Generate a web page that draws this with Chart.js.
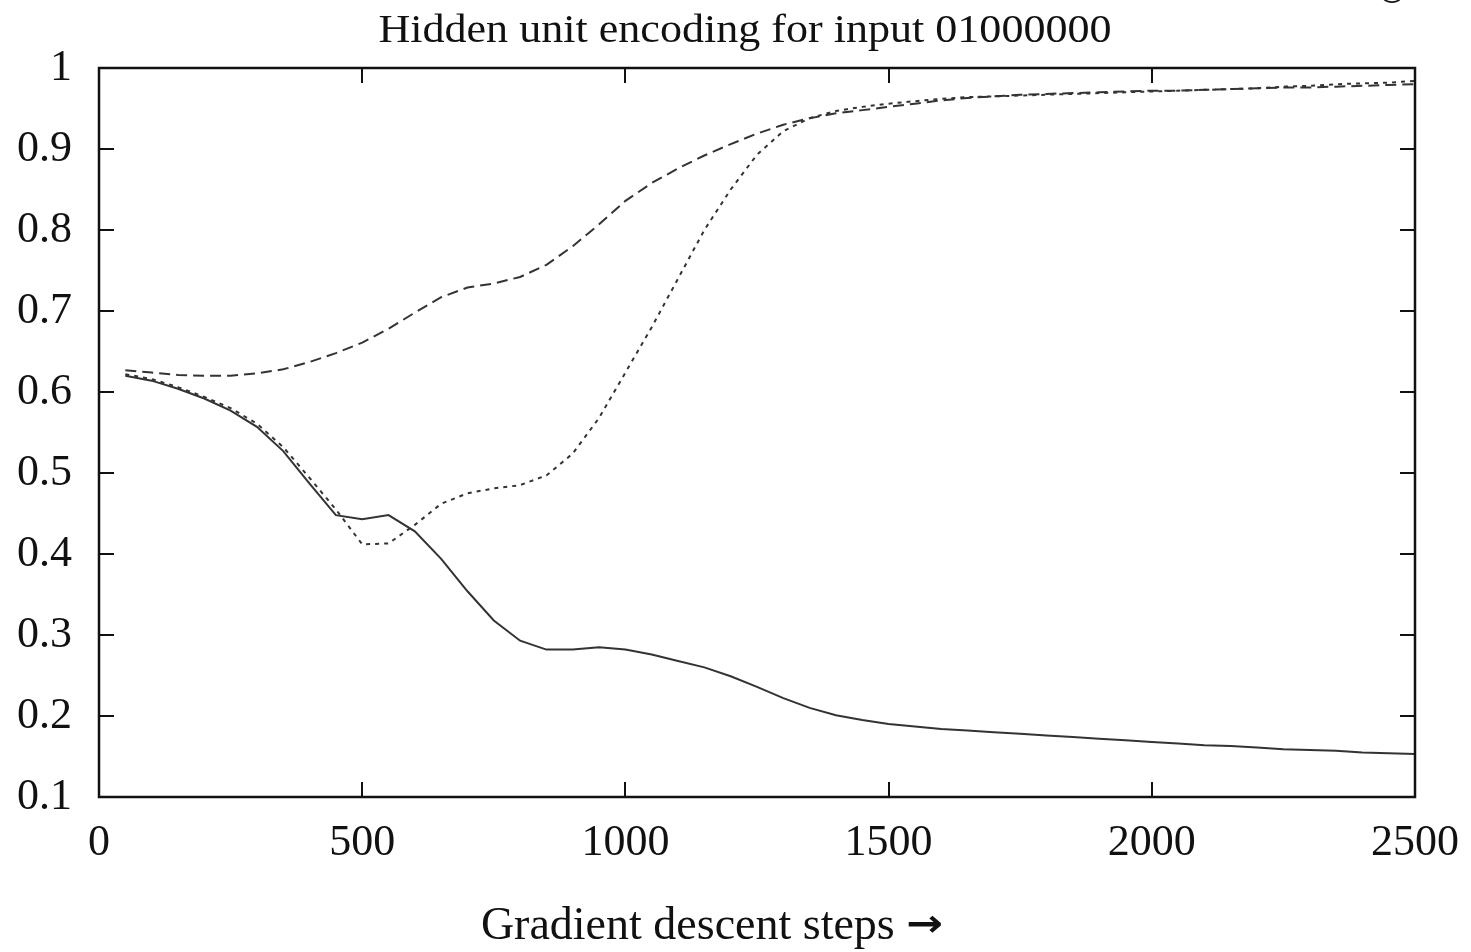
<!DOCTYPE html>
<html>
<head>
<meta charset="utf-8">
<script src="https://cdn.jsdelivr.net/npm/chart.js@4.4.1/dist/chart.umd.min.js"></script>
<style>
    html, body { margin: 0; padding: 0; background: #fff; }
    #wrap { position: relative; width: 1471px; height: 952px; overflow: hidden; }
    #chart { position: absolute; left: 0; top: 0; }
    .txt { position: absolute; font-family: "Liberation Serif", "Times New Roman", serif; color: #111; white-space: nowrap; }
    #title { left: 745px; top: 28px; transform: translate(-50%, -50%) scaleX(1.13); font-size: 39px; }
    #xlabel { left: 712px; top: 923px; transform: translate(-50%, -50%); font-size: 46px; }
    #xlabel b { font-family: "DejaVu Sans", sans-serif; font-weight: bold; font-size: 44px; display: inline-block; transform: scaleY(0.85); }
    #mark { left: 1392px; top: -30px; transform: translateX(-50%); font-size: 36px; font-family: "DejaVu Sans", sans-serif; }
</style>
</head>
<body>
<div id="wrap">
    <canvas id="chart" width="1471" height="952"></canvas>
    <div class="txt" id="title">Hidden unit encoding for input 01000000</div>
    <div class="txt" id="xlabel">Gradient descent steps <b>→</b></div>
    <div class="txt" id="mark">©</div>
</div>
<script>
// ===== Data =====
const steps = [50, 100, 150, 200, 250, 300, 350, 400, 450, 500,
    550, 600, 650, 700, 750, 800, 850, 900, 950, 1000,
    1050, 1100, 1150, 1200, 1250, 1300, 1350, 1400, 1450, 1500,
    1550, 1600, 1650, 1700, 1750, 1800, 1850, 1900, 1950, 2000,
    2050, 2100, 2150, 2200, 2250, 2300, 2350, 2400, 2450, 2500];

const unitSolid = [0.620, 0.614, 0.604, 0.592, 0.577, 0.557, 0.527, 0.487, 0.448, 0.443,
    0.448, 0.428, 0.394, 0.354, 0.318, 0.293, 0.282, 0.282, 0.285, 0.282,
    0.276, 0.268, 0.260, 0.249, 0.236, 0.222, 0.210, 0.201, 0.195, 0.190,
    0.187, 0.184, 0.182, 0.180, 0.178, 0.176, 0.174, 0.172, 0.170, 0.168,
    0.166, 0.164, 0.163, 0.161, 0.159, 0.158, 0.157, 0.155, 0.154, 0.153];

const unitDotted = [0.622, 0.616, 0.606, 0.594, 0.580, 0.561, 0.532, 0.494, 0.455, 0.412,
    0.413, 0.436, 0.462, 0.475, 0.481, 0.485, 0.497, 0.524, 0.568, 0.624,
    0.680, 0.740, 0.800, 0.850, 0.893, 0.922, 0.938, 0.947, 0.952, 0.956,
    0.959, 0.962, 0.964, 0.965, 0.966, 0.967, 0.968, 0.969, 0.970, 0.971,
    0.972, 0.973, 0.974, 0.975, 0.977, 0.978, 0.980, 0.981, 0.982, 0.984];

const unitDashed = [0.627, 0.624, 0.621, 0.620, 0.620, 0.623, 0.628, 0.637, 0.648, 0.661,
    0.678, 0.698, 0.717, 0.729, 0.734, 0.742, 0.757, 0.780, 0.807, 0.836,
    0.858, 0.876, 0.892, 0.906, 0.919, 0.930, 0.938, 0.944, 0.948, 0.952,
    0.956, 0.960, 0.963, 0.965, 0.967, 0.968, 0.969, 0.970, 0.971, 0.972,
    0.972, 0.973, 0.974, 0.975, 0.976, 0.976, 0.977, 0.978, 0.979, 0.980];

const xTicks = [0, 500, 1000, 1500, 2000, 2500];
const yTicks = [0.1, 0.2, 0.3, 0.4, 0.5, 0.6, 0.7, 0.8, 0.9, 1];

const toPoints = vals => vals.map((v, i) => ({ x: steps[i], y: v }));

// ===== Frame + inward ticks (gnuplot style) =====
const TICK = 15;
const framePlugin = {
    id: 'frame',
    afterDatasetsDraw(chart) {
        const { ctx, chartArea: a, scales } = chart;
        ctx.save();
        ctx.strokeStyle = '#111';
        ctx.lineWidth = 2;
        ctx.beginPath();
        xTicks.forEach(t => {
            const px = Math.round(scales.x.getPixelForValue(t));
            ctx.moveTo(px, a.bottom); ctx.lineTo(px, a.bottom - TICK);
            ctx.moveTo(px, a.top); ctx.lineTo(px, a.top + TICK);
        });
        yTicks.forEach(t => {
            const py = Math.round(scales.y.getPixelForValue(t));
            ctx.moveTo(a.left, py); ctx.lineTo(a.left + TICK, py);
            ctx.moveTo(a.right, py); ctx.lineTo(a.right - TICK, py);
        });
        ctx.stroke();
        ctx.lineWidth = 2.5;
        ctx.strokeRect(a.left, a.top, a.right - a.left, a.bottom - a.top);
        ctx.restore();
    }
};

const lineStyle = { borderColor: '#333', borderWidth: 2, pointRadius: 0, tension: 0, fill: false };
const tickFont = { family: 'Liberation Serif', size: 44 };

new Chart(document.getElementById('chart'), {
    type: 'line',
    data: {
        datasets: [
            Object.assign({ label: 'solid', data: toPoints(unitSolid) }, lineStyle),
            Object.assign({ label: 'dotted', data: toPoints(unitDotted), borderDash: [4, 5] }, lineStyle),
            Object.assign({ label: 'dashed', data: toPoints(unitDashed), borderDash: [11, 6] }, lineStyle)
        ]
    },
    options: {
        responsive: false,
        animation: false,
        layout: { padding: { top: 68, right: 56, left: 0, bottom: 0 } },
        plugins: { legend: { display: false }, tooltip: { enabled: false }, title: { display: false } },
        scales: {
            x: {
                type: 'linear', min: 0, max: 2500,
                afterBuildTicks: s => { s.ticks = xTicks.map(v => ({ value: v })); },
                afterFit: s => { s.height = 155; s.paddingLeft = 0; s.paddingRight = 0; },
                grid: { display: false, drawTicks: false },
                border: { display: false },
                ticks: { color: '#111', padding: 20, maxRotation: 0, font: tickFont,
                    callback: v => String(v) }
            },
            y: {
                min: 0.1, max: 1,
                afterBuildTicks: s => { s.ticks = yTicks.map(v => ({ value: v })); },
                afterFit: s => { s.width = 99; s.paddingTop = 0; s.paddingBottom = 0; },
                grid: { display: false, drawTicks: false },
                border: { display: false },
                ticks: { color: '#111', padding: 27, font: tickFont,
                    callback: v => String(Math.round(v * 10) / 10) }
            }
        }
    },
    plugins: [framePlugin]
});
</script>
</body>
</html>
